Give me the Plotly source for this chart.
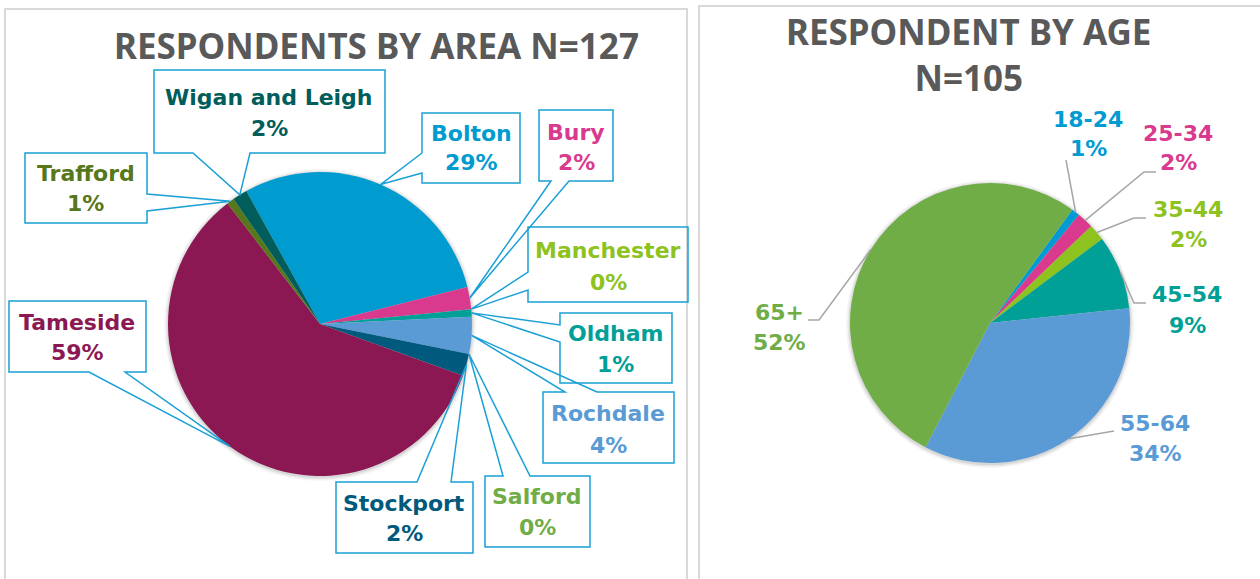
import math
import plotly.graph_objects as go

W, H = 1260, 579

# ---------------- data ----------------
area_labels = ["Bolton", "Bury", "Manchester", "Oldham", "Rochdale", "Salford",
               "Stockport", "Tameside", "Trafford", "Wigan and Leigh"]
area_counts = [37, 3, 0, 1, 5, 0, 3, 75, 1, 2]
area_colors = ["#009BCF", "#DA3A8E", "#8DC21F", "#00A098", "#5B9BD5", "#70AD47",
               "#005A7D", "#8B1852", "#56771A", "#005D5B"]

age_labels = ["18-24", "25-34", "35-44", "45-54", "55-64", "65+"]
age_counts = [1, 2, 2, 9, 36, 55]
age_colors = ["#009BD3", "#DA3A8E", "#8DC21F", "#00A096", "#5B9BD5", "#70AD47"]

area_title = "RESPONDENTS BY AREA N=127"
age_title_lines = ["RESPONDENT BY AGE", "N=105"]

# ---------------- layout geometry (pixels) ----------------
AREA_PIE = dict(cx=320, cy=324, r=152, rotation=-29)
AGE_PIE = dict(cx=990, cy=323, r=140, rotation=36)

# callout boxes: x0, y0, x1, y1, pointer side, base a, base b, text x, line1 y, line2 y
area_boxes = [
    (422, 113, 520, 183, "left", 153, 173, 471, 133, 163),    # Bolton
    (539, 110, 613, 181, "bottom", 551, 569, 576, 132, 162),  # Bury
    (528, 227, 688, 302, "left", 272, 290, 608, 250, 282),    # Manchester
    (560, 313, 672, 383, "left", 325, 342, 615, 333, 365),    # Oldham
    (543, 392, 674, 463, "top", 565, 597, 608, 413, 445),     # Rochdale
    (485, 476, 590, 547, "top", 503, 530, 537, 496, 527),     # Salford
    (336, 482, 473, 553, "top", 417, 451, 404, 503, 533),     # Stockport
    (9, 301, 146, 372, "bottom", 89, 125, 77, 322, 352),      # Tameside
    (25, 153, 147, 223, "right", 194, 211, 86, 173, 204),     # Trafford
    (154, 70, 385, 153, "bottom", 193, 250, 269, 97, 128),    # Wigan and Leigh
]

# age labels: leader elbow points (list), text x, line1 y, line2 y
age_label_pos = [
    ([(1066, 160)], 1088, 119, 149),
    ([(1144, 172), (1156, 172)], 1178, 133, 163),
    ([(1134, 218), (1146, 218)], 1188, 210, 240),
    ([(1134, 303), (1146, 303)], 1187, 294, 325),
    ([(1114, 431)], 1155, 423, 453),
    ([(819, 320), (808, 320)], 779, 312, 342),
]

CALLOUT_LINE = "#1AA0D5"
LEADER_GREY = "#A6A6A6"
TITLE_GREY = "#595959"
LABEL_FONT = "DejaVu Sans"
TITLE_FONT = "Noto Sans"


def px(x):
    return x / W


def py(y):
    return 1 - y / H


def mid_points(counts, pie):
    total = sum(counts)
    cum = 0
    pts = []
    for c in counts:
        ang = math.radians(pie["rotation"] + (cum + c / 2) / total * 360)
        pts.append((pie["cx"] + pie["r"] * math.sin(ang), pie["cy"] - pie["r"] * math.cos(ang)))
        cum += c
    return pts


def pct_text(counts):
    total = sum(counts)
    return [f"{round(100 * c / total)}%" for c in counts]


def path_str(pts, close=False):
    s = "M " + " L ".join(f"{px(x):.5f},{py(y):.5f}" for x, y in pts)
    return s + (" Z" if close else "")


def callout_path(x0, y0, x1, y1, side, a, b, tip):
    tx, ty = tip
    if side == "top":
        pts = [(x0, y0), (a, y0), (tx, ty), (b, y0), (x1, y0), (x1, y1), (x0, y1)]
    elif side == "right":
        pts = [(x0, y0), (x1, y0), (x1, a), (tx, ty), (x1, b), (x1, y1), (x0, y1)]
    elif side == "bottom":
        pts = [(x0, y0), (x1, y0), (x1, y1), (b, y1), (tx, ty), (a, y1), (x0, y1)]
    else:
        pts = [(x0, y0), (x1, y0), (x1, y1), (x0, y1), (x0, b), (tx, ty), (x0, a)]
    return path_str(pts, close=True)


def pie_domain(pie):
    return dict(x=[px(pie["cx"] - pie["r"]), px(pie["cx"] + pie["r"])],
                y=[py(pie["cy"] + pie["r"]), py(pie["cy"] - pie["r"])])


fig = go.Figure()

fig.add_trace(go.Pie(
    labels=area_labels, values=area_counts, sort=False, direction="clockwise",
    rotation=AREA_PIE["rotation"], textinfo="none", hoverinfo="label+percent",
    marker=dict(colors=area_colors, line=dict(width=0)),
    domain=pie_domain(AREA_PIE), showlegend=False,
))
fig.add_trace(go.Pie(
    labels=age_labels, values=age_counts, sort=False, direction="clockwise",
    rotation=AGE_PIE["rotation"], textinfo="none", hoverinfo="label+percent",
    marker=dict(colors=age_colors, line=dict(width=0)),
    domain=pie_domain(AGE_PIE), showlegend=False,
))

shapes = []
# panel frames
shapes.append(dict(type="rect", xref="paper", yref="paper", x0=px(5), x1=px(687),
                   y0=py(592), y1=py(9), line=dict(color="#D9D9D9", width=2), layer="below"))
shapes.append(dict(type="rect", xref="paper", yref="paper", x0=px(699), x1=px(1275),
                   y0=py(592), y1=py(6), line=dict(color="#D9D9D9", width=2), layer="below"))

# soft shadows behind pies
for pie in (AREA_PIE, AGE_PIE):
    for k, op in ((4, 0.04), (2.5, 0.05), (1.2, 0.07)):
        shapes.append(dict(type="circle", xref="paper", yref="paper",
                           x0=px(pie["cx"] - pie["r"] - k), x1=px(pie["cx"] + pie["r"] + k),
                           y0=py(pie["cy"] + pie["r"] + k + 1), y1=py(pie["cy"] - pie["r"] - k + 1),
                           fillcolor=f"rgba(0,0,0,{op})", line=dict(width=0), layer="below"))

annotations = []

# area callouts
area_tips = mid_points(area_counts, AREA_PIE)
area_pcts = pct_text(area_counts)
for name, pct, col, box, tip in zip(area_labels, area_pcts, area_colors, area_boxes, area_tips):
    x0, y0, x1, y1, side, a, b, tx_, ly1, ly2 = box
    shapes.append(dict(type="path", xref="paper", yref="paper",
                       path=callout_path(x0, y0, x1, y1, side, a, b, tip),
                       line=dict(color=CALLOUT_LINE, width=1.5),
                       fillcolor="rgba(255,255,255,0)", layer="above"))
    for txt, ly in ((name, ly1), (pct, ly2)):
        annotations.append(dict(xref="paper", yref="paper", x=px(tx_), y=py(ly),
                                xanchor="center", yanchor="middle", showarrow=False, text=txt,
                                font=dict(family=LABEL_FONT, size=22, color=col, weight="bold")))

# age labels with leader lines
age_tips = mid_points(age_counts, AGE_PIE)
age_pcts = pct_text(age_counts)
for name, pct, col, pos, tip in zip(age_labels, age_pcts, age_colors, age_label_pos, age_tips):
    elbows, tx_, ly1, ly2 = pos
    shapes.append(dict(type="path", xref="paper", yref="paper",
                       path=path_str([tip] + elbows),
                       line=dict(color=LEADER_GREY, width=1.5), layer="above"))
    for txt, ly in ((name, ly1), (pct, ly2)):
        annotations.append(dict(xref="paper", yref="paper", x=px(tx_), y=py(ly),
                                xanchor="center", yanchor="middle", showarrow=False, text=txt,
                                font=dict(family=LABEL_FONT, size=22, color=col, weight="bold")))

# titles
annotations.append(dict(xref="paper", yref="paper", x=px(376), y=py(45), xanchor="center",
                        yanchor="middle", showarrow=False, text=area_title,
                        font=dict(family=TITLE_FONT, size=35, color=TITLE_GREY, weight="bold")))
annotations.append(dict(xref="paper", yref="paper", x=px(968), y=py(54), xanchor="center",
                        yanchor="middle", showarrow=False, text="<br>".join(age_title_lines),
                        font=dict(family=TITLE_FONT, size=35, color=TITLE_GREY, weight="bold")))

fig.update_layout(
    width=W, height=H, margin=dict(l=0, r=0, t=0, b=0),
    paper_bgcolor="white", plot_bgcolor="white",
    shapes=shapes, annotations=annotations, showlegend=False,
)

fig.write_html("out.html", config={"displayModeBar": False},
               post_script="document.body.style.margin='0';document.body.style.overflow='hidden';")
